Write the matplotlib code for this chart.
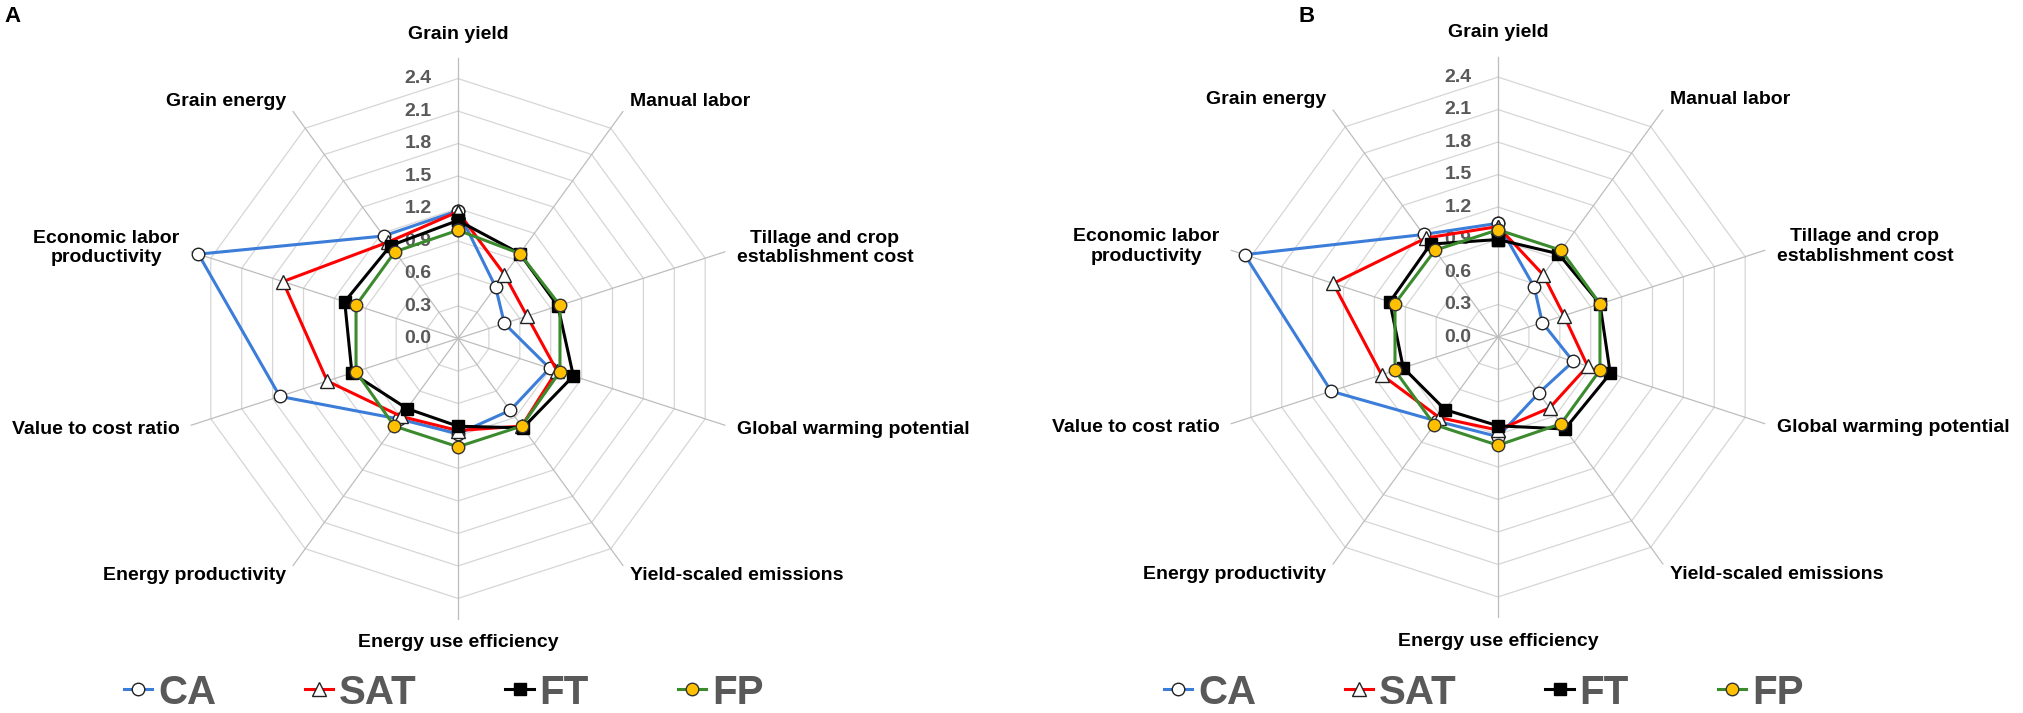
import numpy as np
import matplotlib
matplotlib.use('Agg')
import matplotlib.pyplot as plt
from matplotlib.lines import Line2D

plt.rcParams['font.family'] = ['Liberation Sans', 'DejaVu Sans']

# axes of the radar, clockwise from the top
categories = ['Grain yield', 'Manual labor', 'Tillage and crop\nestablishment cost',
              'Global warming potential', 'Yield-scaled emissions', 'Energy use efficiency',
              'Energy productivity', 'Value to cost ratio', 'Economic labor\nproductivity',
              'Grain energy']
ticks = [0.0, 0.3, 0.6, 0.9, 1.2, 1.5, 1.8, 2.1, 2.4]
tick_labels = ['0.0', '0.3', '0.6', '0.9', '1.2', '1.5', '1.8', '2.1', '2.4']
series_names = ['CA', 'SAT', 'FT', 'FP']

# panel A
a_ca = [1.18, 0.59, 0.45, 0.89, 0.82, 0.88, 0.92, 1.73, 2.52, 1.17]
a_sat = [1.17, 0.73, 0.67, 0.96, 1.00, 0.85, 0.89, 1.27, 1.70, 1.10]
a_ft = [1.09, 0.97, 0.97, 1.12, 1.02, 0.81, 0.80, 1.03, 1.10, 1.06]
a_fp = [1.00, 0.97, 0.99, 0.99, 1.00, 1.00, 1.00, 0.99, 0.99, 0.99]

# panel B
b_ca = [1.05, 0.57, 0.43, 0.73, 0.64, 0.92, 0.96, 1.62, 2.46, 1.17]
b_sat = [1.02, 0.71, 0.64, 0.87, 0.81, 0.86, 0.92, 1.13, 1.60, 1.13]
b_ft = [0.90, 0.95, 0.99, 1.09, 1.05, 0.82, 0.83, 0.92, 1.05, 1.06]
b_fp = [0.99, 0.99, 0.99, 0.99, 0.99, 1.00, 1.00, 1.00, 1.00, 0.99]

# line style per series
styles = {
    'CA': dict(color='#3b7dd8', marker='o', markersize=9, markerfacecolor='white', markeredgecolor='#222222'),
    'SAT': dict(color='#ff0000', marker='^', markersize=10, markerfacecolor='white', markeredgecolor='#222222'),
    'FT': dict(color='black', marker='s', markersize=8.5, markerfacecolor='black', markeredgecolor='black'),
    'FP': dict(color='#3c8a2e', marker='o', markersize=9, markerfacecolor='#ffc000', markeredgecolor='#333333'),
}

n = len(categories)
theta = np.arange(n) * 2 * np.pi / n
r_spoke = 2.59


def draw_radar(ax, series):
    ax.set_theta_offset(np.pi / 2)
    ax.set_theta_direction(-1)
    ax.set_ylim(0, 2.6)
    ax.grid(False)
    ax.set_xticks([])
    ax.set_yticks([])
    ax.spines['polar'].set_visible(False)
    ax.patch.set_alpha(0)

    closed = np.append(theta, theta[0])
    # decagon rings
    for r in ticks[1:]:
        ax.plot(closed, [r] * (n + 1), color='#d6d6d6', lw=0.9, zorder=1)
    # spokes
    for t in theta:
        ax.plot([t, t], [0, r_spoke], color='#bdbdbd', lw=0.9, zorder=1)

    # radial tick labels
    for r, lbl in zip(ticks, tick_labels):
        ax.annotate(lbl, xy=(0, r), xytext=(-19, 0), textcoords='offset points',
                    ha='right', va='center', fontsize=14, fontweight='bold',
                    color='#595959', zorder=2)

    # category labels
    for t, lbl in zip(theta, categories):
        ang = np.pi / 2 - t
        dx, dy = np.cos(ang), np.sin(ang)
        if abs(dx) < 0.01:
            ha = 'center'
            off = 17
        else:
            ha = 'left' if dx > 0 else 'right'
            off = 9
        ax.annotate(lbl, xy=(t, r_spoke), xytext=(off * dx, off * dy),
                    textcoords='offset points', ha=ha, va='center',
                    multialignment='center', fontsize=14, fontweight='bold',
                    color='black', linespacing=1.2, annotation_clip=False)

    # data
    for name, vals in zip(series_names, series):
        v = np.append(vals, vals[0])
        ax.plot(closed, v, lw=2.2, markeredgewidth=1.0, zorder=3, clip_on=False,
                **styles[name])


fig = plt.figure(figsize=(20.23, 7.13), dpi=100)
W, H = 2023, 713
rad_px = 2.6 * 108.3

ax_a = fig.add_axes([(458 - rad_px) / W, (H - 338.5 - rad_px) / H, 2 * rad_px / W, 2 * rad_px / H],
                    projection='polar')
ax_b = fig.add_axes([(1498 - rad_px) / W, (H - 337 - rad_px) / H, 2 * rad_px / W, 2 * rad_px / H],
                    projection='polar')

draw_radar(ax_a, [a_ca, a_sat, a_ft, a_fp])
draw_radar(ax_b, [b_ca, b_sat, b_ft, b_fp])

fig.text(4 / W, 1 - 6 / H, 'A', fontsize=16, fontweight='bold', va='top', ha='left')
fig.text(1298 / W, 1 - 6 / H, 'B', fontsize=16, fontweight='bold', va='top', ha='left')

# legends under each panel
handles = [Line2D([], [], lw=2.2, markeredgewidth=1.0, **styles[s]) for s in series_names]
for x0 in [124, 1164]:
    leg = fig.legend(handles, series_names, loc='lower left', bbox_to_anchor=(x0 / W, 0.002),
                     ncol=4, frameon=False, prop=dict(weight='bold', size=29),
                     handlelength=0.7, handletextpad=0.15, columnspacing=2.2,
                     borderpad=0, borderaxespad=0)
    for txt in leg.get_texts():
        txt.set_color('#595959')

fig.savefig('out.png', dpi=100)
